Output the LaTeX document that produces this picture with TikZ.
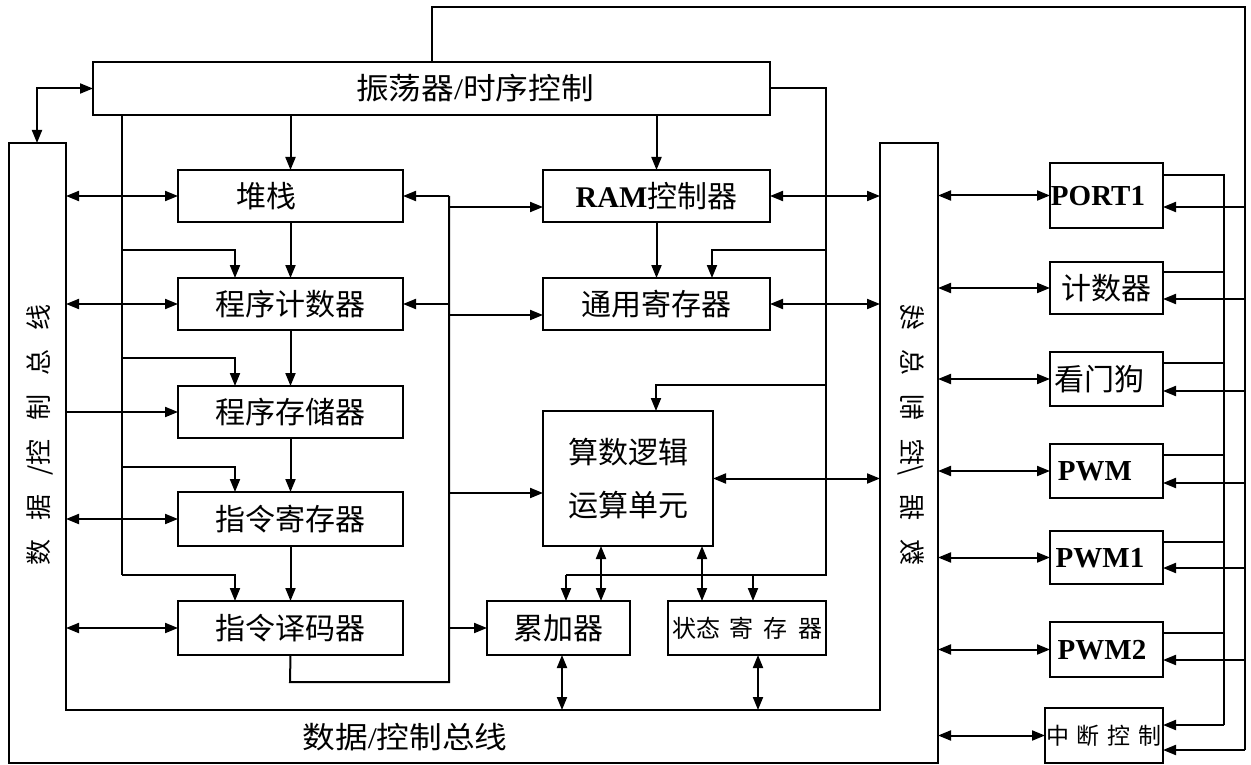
\documentclass[tikz,border=0pt]{standalone}
\usepackage{fontspec}
\usepackage{graphicx}
\setmainfont{Noto Sans CJK SC}
\newfontfamily\tnr{Liberation Serif}
\usetikzlibrary{arrows.meta}
\begin{document}
\begin{tikzpicture}[x=1pt,y=-1pt,line join=miter,
  ln/.style={line width=2pt},
  box/.style={draw, line width=2pt, inner sep=0pt, outer sep=0pt, rectangle, font=\fontsize{30}{36}\selectfont},
  tx/.style={inner sep=0pt, font=\fontsize{30}{36}\selectfont},
  lat/.style={inner sep=0pt, font=\tnr\bfseries\fontsize{29}{34}\selectfont},
  ar/.style={ln, -{Triangle[length=13pt,width=10pt]}},
  dar/.style={ln, {Triangle[length=13pt,width=10pt]}-{Triangle[length=13pt,width=10pt]}},
  buslbl/.style={inner sep=0pt, font=\fontsize{26}{30}\selectfont}]
\useasboundingbox (0,0) rectangle (1251,765);

% bus outline
\draw[ln] (9,143) -- (66,143) -- (66,710) -- (880,710) -- (880,143) -- (938,143) -- (938,763) -- (9,763) -- cycle;
\coordinate (LBi) at (66,143);
\coordinate (LBtop) at (37,143);
\coordinate (RBi) at (880,143);
\coordinate (RBo) at (938,143);
\coordinate (BBi) at (0,710);
\node[buslbl, rotate=90] (lbl) at (40,435) {数\hspace{19pt}据\hspace{19pt}/控\hspace{19pt}制\hspace{19pt}总\hspace{19pt}线};
\node[buslbl] (rbl) at (911,435) {\scalebox{-1}[1]{\rotatebox{90}{数\hspace{19pt}据\hspace{19pt}/控\hspace{19pt}制\hspace{19pt}总\hspace{19pt}线}}};
\node[tx] (bbl) at (405,737) {\scalebox{1.09}[1]{数据{\tnr/}控制总线}};

% oscillator
\node[box, minimum width=677pt, minimum height=53pt] (osc) at (431.5,88.5) {};
\node[tx] (osct) at (475,88) {\scalebox{1.09}[1]{振荡器{\tnr/}时序控制}};

% left column
\node[box, minimum width=225pt, minimum height=52pt] (stack) at (290.5,196) {};
\node[tx] (stackt) at (266,196) {堆栈};
\node[box, minimum width=225pt, minimum height=52pt] (pc) at (290.5,304) {程序计数器};
\node[box, minimum width=225pt, minimum height=52pt] (pm) at (290.5,412) {程序存储器};
\node[box, minimum width=225pt, minimum height=54pt] (ir) at (290.5,519) {指令寄存器};
\node[box, minimum width=225pt, minimum height=54pt] (id) at (290.5,628) {指令译码器};

% middle column
\node[box, minimum width=227pt, minimum height=52pt] (ram) at (656.5,196) {{\tnr\bfseries RAM}控制器};
\node[box, minimum width=227pt, minimum height=52pt] (gr) at (656.5,304) {通用寄存器};
\node[box, minimum width=170pt, minimum height=135pt, align=center, font=\fontsize{30}{53}\selectfont] (alu) at (628,478.5) {算数逻辑\\运算单元};
\node[box, minimum width=143pt, minimum height=54pt] (acc) at (558.5,628) {累加器};
\node[box, minimum width=158pt, minimum height=54pt, font=\fontsize{24}{28}\selectfont] (sr) at (747,628) {状态\hspace{10pt}寄\hspace{10pt}存\hspace{10pt}器};

% peripherals
\node[box, minimum width=113pt, minimum height=65pt] (port1) at (1106.5,195.5) {};
\node[lat] (port1t) at (1098,196) {PORT1};
\node[box, minimum width=113pt, minimum height=52pt] (cnt) at (1106.5,288) {计数器};
\node[box, minimum width=113pt, minimum height=54pt] (wd) at (1106.5,379) {};
\node[tx] (wdt) at (1099,379) {看门狗};
\node[box, minimum width=113pt, minimum height=54pt] (pwm) at (1106.5,471) {};
\node[lat] (pwmt) at (1095,471) {PWM};
\node[box, minimum width=113pt, minimum height=53pt] (pwm1) at (1106.5,557.5) {};
\node[lat] (pwm1t) at (1100,558) {PWM1};
\node[box, minimum width=113pt, minimum height=55pt] (pwm2) at (1106.5,649.5) {};
\node[lat] (pwm2t) at (1102,650) {PWM2};
\node[box, minimum width=118pt, minimum height=55pt, font=\fontsize{23}{27}\selectfont] (irq) at (1104,735.5) {中\hspace{8pt}断\hspace{8pt}控\hspace{8pt}制};

% oscillator to bus
\draw[dar] (LBtop) |- (osc.west);

% top feedback line
\coordinate (Vout) at (1245,7);
\coordinate (Vin) at (1224,175);
\draw[ln] (osc.north -| 432,0) |- (Vout) -- (1245,750);
\draw[ar] (1245,750) -- (irq.east |- 0,750);

% left control line
\draw[ln] (osc.south -| 122,0) -- (122,575);
\draw[ar] (122,250) -| (pc.north -| 235,0);
\draw[ar] (122,358) -| (pm.north -| 235,0);
\draw[ar] (122,467) -| (ir.north -| 235,0);
\draw[ar] (122,575) -| (id.north -| 235,0);

% vertical chain
\draw[ar] (osc.south -| stack.north) -- (stack.north);
\draw[ar] (stack.south) -- (pc.north);
\draw[ar] (pc.south) -- (pm.north);
\draw[ar] (pm.south) -- (ir.north);
\draw[ar] (ir.south) -- (id.north);
\draw[ar] (osc.south -| ram.north) -- (ram.north);
\draw[ar] (ram.south) -- (gr.north);

% right control line
\draw[ln] (osc.east) -| (826,575) -- (566,575);
\draw[ar] (826,250) -| (gr.north -| 712,0);
\draw[ar] (826,385) -| (alu.north -| 656,0);
\draw[ar] (566,575) -- (acc.north -| 566,0);
\draw[ar] (753,575) -- (sr.north -| 753,0);

% left bus arrows
\draw[dar] (stack.west -| LBi) -- (stack.west);
\draw[dar] (pc.west -| LBi) -- (pc.west);
\draw[ar] (pm.west -| LBi) -- (pm.west);
\draw[dar] (ir.west -| LBi) -- (ir.west);
\draw[dar] (id.west -| LBi) -- (id.west);

% middle internal bus
\coordinate (mv) at (449,196);
\draw[ln] (id.south) -- (290,682) -| (mv);
\draw[ar] (mv) -- (stack.east);
\draw[ar] (mv |- 0,207) -- (ram.west |- 0,207);
\draw[ar] (mv |- pc.east) -- (pc.east);
\draw[ar] (mv |- 0,315) -- (gr.west |- 0,315);
\draw[ar] (mv |- 0,493) -- (alu.west |- 0,493);
\draw[ar] (mv |- acc.west) -- (acc.west);

% right bus arrows
\draw[dar] (ram.east) -- (ram.east -| RBi);
\draw[dar] (gr.east) -- (gr.east -| RBi);
\draw[dar] (alu.east) -- (alu.east -| RBi);
\draw[dar] (alu.south -| 601,0) -- (acc.north -| 601,0);
\draw[dar] (alu.south -| 702,0) -- (sr.north -| 702,0);
\draw[dar] (acc.south -| 562,0) -- (562,710);
\draw[dar] (sr.south -| 758,0) -- (758,710);

% peripherals to bus
\draw[dar] (RBo |- port1.west) -- (port1.west);
\draw[dar] (RBo |- cnt.west) -- (cnt.west);
\draw[dar] (RBo |- wd.west) -- (wd.west);
\draw[dar] (RBo |- pwm.west) -- (pwm.west);
\draw[dar] (RBo |- pwm1.west) -- (pwm1.west);
\draw[dar] (RBo |- pwm2.west) -- (pwm2.west);
\draw[dar] (RBo |- irq.west) -- (irq.west);

% peripheral outputs to inner vertical
\draw[ln] (port1.east |- Vin) -| (1224,725);
\draw[ar] (1224,725) -- (irq.east |- 0,725);
\draw[ln] (cnt.east |- 0,272) -- (1224,272);
\draw[ln] (wd.east |- 0,363) -- (1224,363);
\draw[ln] (pwm.east |- 0,455) -- (1224,455);
\draw[ln] (pwm1.east |- 0,542) -- (1224,542);
\draw[ln] (pwm2.east |- 0,633) -- (1224,633);

% inputs from outer vertical
\draw[ar] (Vout |- 0,207) -- (port1.east |- 0,207);
\draw[ar] (Vout |- 0,299) -- (cnt.east |- 0,299);
\draw[ar] (Vout |- 0,391) -- (wd.east |- 0,391);
\draw[ar] (Vout |- 0,483) -- (pwm.east |- 0,483);
\draw[ar] (Vout |- 0,568) -- (pwm1.east |- 0,568);
\draw[ar] (Vout |- 0,660) -- (pwm2.east |- 0,660);
\end{tikzpicture}
\end{document}
